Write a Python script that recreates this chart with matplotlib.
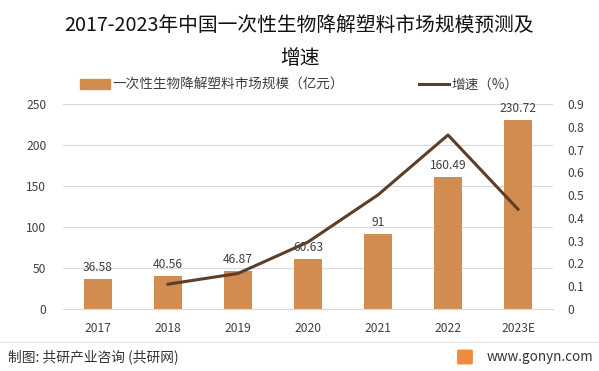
import matplotlib
matplotlib.use("Agg")
import matplotlib.pyplot as plt
from matplotlib.patches import FancyBboxPatch
from matplotlib.lines import Line2D

plt.rcParams['font.family'] = ['Noto Sans CJK SC', 'DejaVu Sans']

years = ['2017', '2018', '2019', '2020', '2021', '2022', '2023E']
market = [36.58, 40.56, 46.87, 60.63, 91, 160.49, 230.72]
growth_years = ['2018', '2019', '2020', '2021', '2022', '2023E']
growth = [0.109, 0.156, 0.294, 0.501, 0.764, 0.438]
market_labels = ['36.58', '40.56', '46.87', '60.63', '91', '160.49', '230.72']

bar_color = '#D38C4F'
line_color = '#5B3F2B'
text_color = '#404040'

fig = plt.figure(figsize=(5.99, 3.71), dpi=100)
ax = fig.add_axes([63/599, 1 - 309/371, 490/599, 205/371])
ax2 = ax.twinx()

x = list(range(len(years)))
ax.bar(x, market, width=0.4, color=bar_color, zorder=2)
for xi, v, lab in zip(x, market, market_labels):
    ax.text(xi, v + 6, lab, ha='center', va='bottom', fontsize=8.7, color=text_color, zorder=5)

gx = [years.index(y) for y in growth_years]
ax2.plot(gx, growth, color=line_color, lw=2.2, zorder=4)

ax.set_xlim(-0.5, len(years) - 0.5)
ax.set_ylim(0, 250)
ax.set_yticks(range(0, 251, 50))
ax2.set_ylim(0, 0.9)
ax2.set_yticks([i / 10 for i in range(10)])
ax2.set_yticklabels(['0'] + [f'{i/10:.1f}' for i in range(1, 10)])

ax.set_xticks(x)
ax.set_xticklabels(years)
ax.grid(axis='y', color='#D9D9D9', lw=0.8, zorder=0)
for a in (ax, ax2):
    for s in a.spines.values():
        s.set_visible(False)
    a.tick_params(length=0, labelsize=8.7, colors=text_color)
ax.spines['bottom'].set_visible(True)
ax.spines['bottom'].set_color('#D9D9D9')
ax.tick_params(axis='y', pad=12)
ax2.tick_params(axis='y', pad=10)
ax.tick_params(axis='x', pad=9)
ax2.patch.set_visible(False)

fig.text(0.5, 1 - 25/371, '2017-2023年中国一次性生物降解塑料市场规模预测及', ha='center', va='center', fontsize=14.2, color='#111111')
fig.text(0.5, 1 - 58/371, '增速', ha='center', va='center', fontsize=14.2, color='#111111')

handles = [plt.Rectangle((0, 0), 1, 1, color=bar_color),
           Line2D([0], [0], color=line_color, lw=2.2)]
fig.legend(handles, ['一次性生物降解塑料市场规模（亿元）', '增速（%）'],
           loc='center', bbox_to_anchor=(0.5, 1 - 85/371), ncol=2, frameon=False,
           fontsize=9.8, handlelength=2.2, handleheight=0.7, columnspacing=5.5, handletextpad=0.2,
           labelcolor=text_color)

fig.add_artist(Line2D([0, 1], [1 - 342/371, 1 - 342/371], color='#E5E5E5', lw=0.8, transform=fig.transFigure))
fig.text(8/599, 1 - 357/371, '制图: 共研产业咨询 (共研网)', ha='left', va='center', fontsize=9.9, color='#333333')
fig.text(593/599, 1 - 357/371, 'www.gonyn.com', ha='right', va='center', fontsize=9.7, color='#333333')
logo = FancyBboxPatch((459/599, 1 - 363/371), 12/599, 12/371, boxstyle='round,pad=0.002',
                      transform=fig.transFigure, color='#F08A3C')
fig.add_artist(logo)

fig.savefig('out.png', dpi=100)
